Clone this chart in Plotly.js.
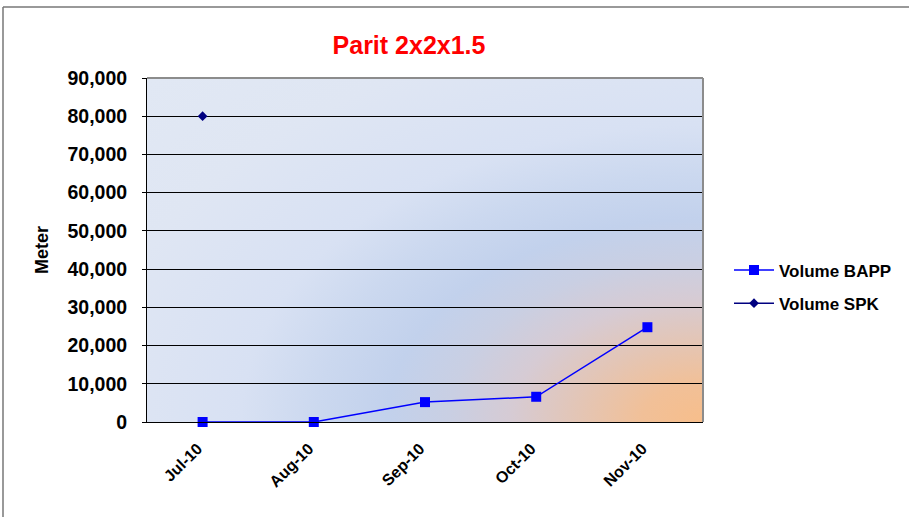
<!DOCTYPE html>
<html>
<head>
<meta charset="utf-8">
<script src="https://cdn.plot.ly/plotly-3.0.1.min.js"></script>
<style>
html,body{margin:0;padding:0;background:#fff;}
#chart{width:909px;height:517px;}
</style>
</head>
<body>
<div id="chart"></div>
<script>
const categories = ["Jul-10", "Aug-10", "Sep-10", "Oct-10", "Nov-10"];
const volumeBAPP = [0, 0, 5200, 6600, 24800];
const volumeSPK = [80000, null, null, null, null];
const yTicks = [0, 10000, 20000, 30000, 40000, 50000, 60000, 70000, 80000, 90000];

function makeGradient(w, h) {
  const c = document.createElement("canvas");
  c.width = w; c.height = h;
  const ctx = c.getContext("2d");
  ctx.fillStyle = "#e1e8f4";
  ctx.fillRect(0, 0, w, h);
  ctx.save();
  ctx.translate(w, h);
  ctx.scale(1.4, 0.9);
  const g = ctx.createRadialGradient(0, 0, 0, 0, 0, 550);
  g.addColorStop(0, "#f7be8b");
  g.addColorStop(0.08, "#f1c098");
  g.addColorStop(0.16, "#e4c5b4");
  g.addColorStop(0.25, "#d6cbd4");
  g.addColorStop(0.33, "#c9cfe3");
  g.addColorStop(0.41, "#c2d1ec");
  g.addColorStop(0.5, "#cbd8ef");
  g.addColorStop(0.6, "#d8e1f3");
  g.addColorStop(0.8, "#dfe6f3");
  g.addColorStop(1, "#e1e8f4");
  ctx.fillStyle = g;
  ctx.fillRect(-w * 2, -h * 2, w * 4, h * 4);
  ctx.restore();
  return c.toDataURL("image/png");
}

const L = 147, R = 703, T = 78, B = 422, W = 909, H = 517;
const pw = R - L, ph = B - T;
const px = v => (v - L) / pw;
const py = v => (B - v) / ph;

const traces = [
  {
    x: categories, y: volumeBAPP, name: "Volume BAPP", type: "scatter", mode: "lines+markers",
    legendgroup: "a",
    line: {color: "#0000ff", width: 1.5},
    marker: {symbol: "square", size: 10, color: "#0000ff"},
    cliponaxis: false
  },
  {
    x: categories, y: volumeSPK, name: "Volume SPK", type: "scatter", mode: "lines+markers",
    legendgroup: "b",
    line: {color: "#000080", width: 1.5},
    marker: {symbol: "diamond", size: 7.5, color: "#000080"},
    cliponaxis: false
  }
];

const AR = "Liberation Sans, Arial, sans-serif";

const layout = {
  width: W, height: H,
  margin: {l: L, r: W - R, t: T, b: H - B, pad: 0},
  paper_bgcolor: "#ffffff",
  plot_bgcolor: "rgba(0,0,0,0)",
  font: {family: AR, color: "#000", size: 16},
  showlegend: true,
  title: {
    text: "<b>Parit 2x2x1.5</b>",
    font: {family: AR, size: 25, color: "#ff0000"},
    x: 409 / W, xanchor: "center", xref: "container",
    y: 1 - 45 / H, yanchor: "middle", yref: "container"
  },
  xaxis: {
    type: "category", range: [-0.5, 4.5],
    tickangle: -45,
    tickfont: {family: AR, size: 16, color: "#000", weight: "bold"},
    showgrid: false, zeroline: false,
    showline: true, linecolor: "#000", linewidth: 1,
    ticks: "", ticklabelstandoff: 10, ticklabelshift: -5, fixedrange: true
  },
  yaxis: {
    range: [0, 90000],
    tickvals: yTicks,
    tickformat: ",d",
    tickfont: {family: AR, size: 19.5, color: "#000", weight: "bold"},
    ticks: "outside", ticklen: 4, tickcolor: "#000",
    ticklabelstandoff: 11,
    showgrid: true, gridcolor: "#000", gridwidth: 1,
    zeroline: false,
    showline: true, linecolor: "#000", linewidth: 1,
    title: {text: "<b>Meter</b>", font: {family: AR, size: 18, color: "#000", weight: "bold"}, standoff: 14},
    fixedrange: true
  },
  legend: {
    x: px(729), xanchor: "left", y: py(287), yanchor: "middle",
    bgcolor: "rgba(0,0,0,0)",
    font: {family: AR, size: 17, color: "#000", weight: "bold"},
    tracegroupgap: 8, itemwidth: 40, traceorder: "grouped"
  },
  images: [{
    source: makeGradient(pw, ph), xref: "paper", yref: "paper",
    x: 0, y: 1, sizex: 1, sizey: 1, sizing: "stretch", layer: "below",
    xanchor: "left", yanchor: "top"
  }],
  shapes: [
    {type: "line", xref: "paper", yref: "paper", x0: 0, x1: 1, y0: 1, y1: 1, line: {color: "#8c8c8c", width: 2}},
    {type: "line", xref: "paper", yref: "paper", x0: 1, x1: 1, y0: 0, y1: 1, line: {color: "#8c8c8c", width: 2}},
    {type: "line", xref: "paper", yref: "paper", x0: px(3), x1: px(915), y0: py(7), y1: py(7), line: {color: "#777", width: 1.5}},
    {type: "line", xref: "paper", yref: "paper", x0: px(3), x1: px(3), y0: py(7), y1: py(530), line: {color: "#777", width: 1.5}}
  ]
};

Plotly.newPlot("chart", traces, layout, {displayModeBar: false, staticPlot: true});
</script>
</body>
</html>
